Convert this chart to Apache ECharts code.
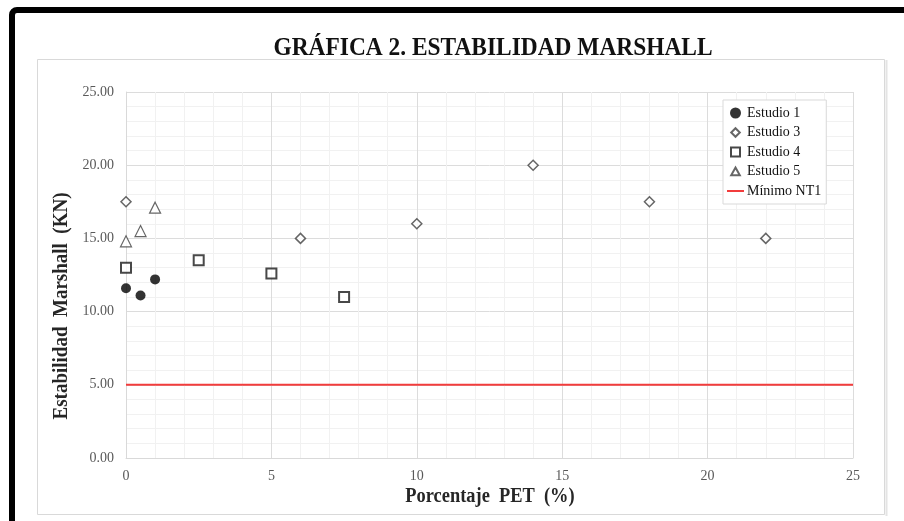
<!DOCTYPE html>
<html>
<head>
<meta charset="utf-8">
<script src="https://cdn.jsdelivr.net/npm/echarts@6/dist/echarts.min.js"></script>
<style>
  html, body { margin: 0; padding: 0; background: #fff; }
  #chart { width: 904px; height: 521px; }
</style>
</head>
<body>
<div id="chart"></div>
<script>
// Estabilidad Marshall (KN) frente al porcentaje de PET (%)
const estudio1X = [0, 0.5, 1];
const estudio1Y = [11.6, 11.1, 12.2];

const estudio3X = [0, 6, 10, 14, 18, 22];
const estudio3Y = [17.5, 15.0, 16.0, 20.0, 17.5, 15.0];

const estudio4X = [0, 2.5, 5, 7.5];
const estudio4Y = [13.0, 13.5, 12.6, 11.0];

const estudio5X = [0, 0.5, 1];
const estudio5Y = [14.8, 15.5, 17.1];

const minimoX = [0, 25];
const minimoY = [5, 5];

const seriesNames = ['Estudio 1', 'Estudio 3', 'Estudio 4', 'Estudio 5', 'Mínimo NT1'];
const titleText = 'GRÁFICA 2. ESTABILIDAD MARSHALL';
const xTitle = 'Porcentaje  PET  (%)';
const yTitle = 'Estabilidad  Marshall  (KN)';

const pairs = (xs, ys) => xs.map((x, i) => [x, ys[i]]);

const serif = '"Liberation Serif", "DejaVu Serif", serif';
const chart = echarts.init(document.getElementById('chart'), null, { renderer: 'canvas' });

// Legend glyphs drawn inside a fixed 17x11 box (the leading moves pin the box)
// so the markers keep their proportions and the limit line shows as a short stroke.
const legendIcons = {
  'Estudio 1': 'circle',
  'Estudio 3': 'path://M0,0M17,11M8.5,1.2L12.8,5.5L8.5,9.8L4.2,5.5Z',
  'Estudio 4': 'path://M0,0M17,11M4,1L13,1L13,10L4,10Z',
  'Estudio 5': 'path://M0,0M17,11M8.5,1.5L12.8,9.3L4.2,9.3Z',
  'Mínimo NT1': 'path://M0,0M17,11M0,4.5L17,4.5L17,6.5L0,6.5Z'
};
const legendData = seriesNames.map(name => ({ name, icon: legendIcons[name] }));

chart.setOption({
  animation: false,
  backgroundColor: '#ffffff',
  grid: { left: 126, right: 51, top: 92, bottom: 63, containLabel: false },
  xAxis: {
    type: 'value', min: 0, max: 25, interval: 5,
    axisLine: { show: true, lineStyle: { color: '#d9d9d9', width: 1 } },
    axisTick: { show: false },
    minorTick: { show: false, splitNumber: 5 },
    splitLine: { show: true, lineStyle: { color: '#dcdcdc', width: 1 } },
    minorSplitLine: { show: true, lineStyle: { color: '#f1f1f1', width: 1 } },
    axisLabel: { color: '#595959', fontFamily: serif, fontSize: 14, margin: 11 }
  },
  yAxis: {
    type: 'value', min: 0, max: 25, interval: 5,
    axisLine: { show: true, lineStyle: { color: '#d9d9d9', width: 1 } },
    axisTick: { show: false },
    minorTick: { show: false, splitNumber: 5 },
    splitLine: { show: true, lineStyle: { color: '#dcdcdc', width: 1 } },
    minorSplitLine: { show: true, lineStyle: { color: '#f1f1f1', width: 1 } },
    axisLabel: {
      color: '#595959', fontFamily: serif, fontSize: 14, margin: 12,
      formatter: v => v.toFixed(2)
    }
  },
  legend: {
    data: legendData,
    orient: 'vertical',
    left: 723, top: 100,
    padding: [6, 5, 6, 3],
    itemGap: 5.5,
    itemWidth: 17,
    itemHeight: 11,
    borderColor: '#d9d9d9', borderWidth: 1,
    backgroundColor: '#ffffff',
    textStyle: { fontFamily: serif, fontSize: 14, color: '#111', padding: [0, 0, 0, -2] }
  },
  graphic: [
    {
      type: 'rect', silent: true, z: 100,
      shape: { x: 12, y: 10, width: 1000, height: 600, r: 5 },
      style: { fill: 'none', stroke: '#000', lineWidth: 6 }
    },
    {
      type: 'rect', silent: true, z: -10,
      shape: { x: 37.5, y: 59.5, width: 847, height: 455 },
      style: { fill: 'none', stroke: '#d9d9d9', lineWidth: 1 }
    },
    {
      type: 'line', silent: true, z: -10,
      shape: { x1: 886.5, y1: 60, x2: 886.5, y2: 516 },
      style: { stroke: '#e4e4e4', lineWidth: 2 }
    },
    {
      type: 'text', silent: true, x: 493, y: 48, scaleX: 0.9,
      style: {
        text: titleText, fill: '#111', font: 'bold 26px ' + serif,
        align: 'center', verticalAlign: 'middle'
      }
    },
    {
      type: 'text', silent: true, x: 490, y: 497, scaleX: 0.92,
      style: {
        text: xTitle, fill: '#262626', font: 'bold 20px ' + serif,
        align: 'center', verticalAlign: 'middle'
      }
    },
    {
      type: 'text', silent: true, x: 62, y: 306, rotation: Math.PI / 2, scaleX: 0.95,
      style: {
        text: yTitle, fill: '#262626', font: 'bold 20px ' + serif,
        align: 'center', verticalAlign: 'middle'
      }
    }
  ],
  series: [
    {
      name: 'Estudio 1', type: 'scatter', symbol: 'circle', symbolSize: 10,
      itemStyle: { color: '#000', borderColor: '#000', borderWidth: 0 },
      data: pairs(estudio1X, estudio1Y), z: 5
    },
    {
      name: 'Estudio 3', type: 'scatter', symbol: 'diamond', symbolSize: 10,
      itemStyle: { color: '#fff', borderColor: '#404040', borderWidth: 1.5 },
      data: pairs(estudio3X, estudio3Y), z: 5
    },
    {
      name: 'Estudio 4', type: 'scatter', symbol: 'rect', symbolSize: 10,
      itemStyle: { color: '#fff', borderColor: '#1a1a1a', borderWidth: 2 },
      data: pairs(estudio4X, estudio4Y), z: 5
    },
    {
      name: 'Estudio 5', type: 'scatter', symbol: 'triangle', symbolSize: 11,
      itemStyle: { color: '#fff', borderColor: '#404040', borderWidth: 1.2 },
      data: pairs(estudio5X, estudio5Y), z: 5
    },
    {
      name: 'Mínimo NT1', type: 'line', symbol: 'none',
      lineStyle: { color: '#f23c3c', width: 2 },
      itemStyle: { color: '#f23c3c' },
      data: pairs(minimoX, minimoY), z: 4
    }
  ]
});
</script>
</body>
</html>
